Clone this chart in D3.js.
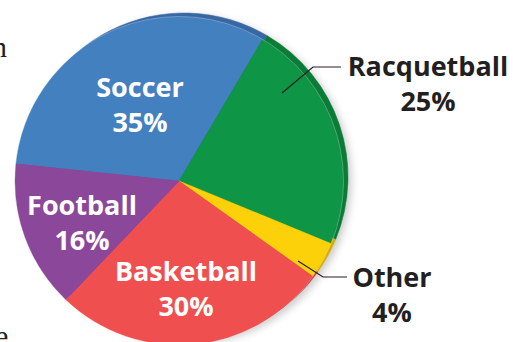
<!DOCTYPE html>
<html>
<head>
<meta charset="utf-8">
<script src="https://cdn.jsdelivr.net/npm/d3@7"></script>
<style>
  html, body { margin: 0; padding: 0; background: #fff; }
  svg { display: block; }
  .lbl { font-family: "Open Sans", "Noto Sans", sans-serif; font-weight: 700; }
</style>
</head>
<body>
<svg id="chart" width="513" height="342"></svg>
<script>
// Favorite sports survey
const sports  = ["Soccer", "Racquetball", "Other", "Basketball", "Football"];
const percent = [35, 25, 4, 30, 16];

// Face and rim colours per slice
const faceColors = ["#4380c0", "#0f9546", "#fdd10a", "#ef4f4f", "#8b489a"];
const rimColors  = ["#3868a4", "#0a7c38", "#d9ad00", "#c93c3c", "#6f3780"];

// Label placement (centre x, first baseline) and text colour
const labelLayout = [
  { x: 140, y: 97,  fill: "#ffffff" },
  { x: 428, y: 76,  fill: "#231f20" },
  { x: 392, y: 287, fill: "#231f20" },
  { x: 186, y: 281, fill: "#ffffff" },
  { x: 82,  y: 215, fill: "#ffffff" }
];
// Leader lines for the labels set outside the pie
const leaders = {
  "Racquetball": [[282, 93], [313, 67], [341, 67]],
  "Other":       [[298, 261], [323, 277], [347, 277]]
};

const svg = d3.select("#chart");
const cx = 179, cy = 181, R = 164;
const start = -84 * Math.PI / 180;

const data = sports.map((s, i) => ({ sport: s, value: percent[i], i }));
const pie = d3.pie().sort(null).value(d => d.value)
  .startAngle(start).endAngle(start + 2 * Math.PI);
const arcs = pie(data);
const arc = d3.arc().innerRadius(0).outerRadius(R);

// soft shadow behind the disc
const defs = svg.append("defs");
const f = defs.append("filter").attr("id", "shadow")
  .attr("x", "-20%").attr("y", "-20%").attr("width", "140%").attr("height", "140%");
f.append("feGaussianBlur").attr("stdDeviation", 4);

svg.append("circle")
  .attr("cx", cx + 8).attr("cy", cy - 1).attr("r", R)
  .attr("fill", "#000").attr("opacity", 0.22)
  .attr("filter", "url(#shadow)");

// rim: the same pie drawn slightly up and to the right
svg.append("g").attr("transform", `translate(${cx + 5},${cy - 4})`)
  .selectAll("path").data(arcs).join("path")
  .attr("d", arc)
  .attr("fill", d => rimColors[d.data.i])
  .attr("stroke", d => rimColors[d.data.i]).attr("stroke-width", 0.5);

// face of the disc
const face = svg.append("g").attr("transform", `translate(${cx},${cy})`);
face.selectAll("path").data(arcs).join("path")
  .attr("d", arc)
  .attr("fill", d => faceColors[d.data.i])
  .attr("stroke", d => faceColors[d.data.i]).attr("stroke-width", 0.5);
face.append("circle").attr("r", R + 0.5)
  .attr("fill", "none").attr("stroke", "rgba(255,255,255,0.28)").attr("stroke-width", 1);

// leader lines
Object.values(leaders).forEach(pts => {
  svg.append("path")
    .attr("d", d3.line()(pts))
    .attr("fill", "none").attr("stroke", "#231f20").attr("stroke-width", 1.2);
});

// labels: name and percentage
const lg = svg.append("g");
data.forEach((d, i) => {
  const L = labelLayout[i];
  const t = lg.append("text").attr("class", "lbl")
    .attr("text-anchor", "middle").attr("fill", L.fill)
    .attr("font-size", 27);
  t.append("tspan").attr("x", L.x).attr("y", L.y).text(d.sport);
  t.append("tspan").attr("x", L.x).attr("y", L.y + 35).text(d.value + "%");
});

// running text at the page edge
svg.append("text").attr("x", -8).attr("y", 57)
  .attr("font-family", "Liberation Serif, serif").attr("font-size", 30)
  .attr("fill", "#231f20").text("n");
svg.append("text").attr("x", -5).attr("y", 346)
  .attr("font-family", "Liberation Serif, serif").attr("font-size", 30)
  .attr("fill", "#231f20").text("e");
</script>
</body>
</html>
